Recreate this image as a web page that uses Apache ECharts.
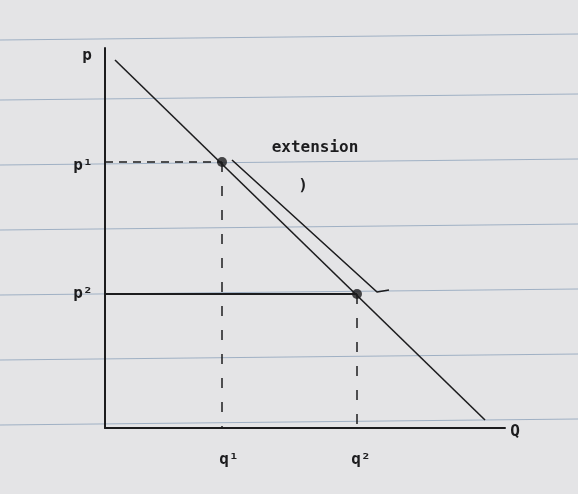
<!DOCTYPE html>
<html><head><meta charset="utf-8">
<script src="https://cdn.jsdelivr.net/npm/echarts@6/dist/echarts.min.js"></script>
<style>html,body{margin:0;padding:0;background:#e4e4e6}#c{width:578px;height:494px}</style>
</head><body><div id="c"></div>
<script>
var demand=[[10,368],[380,8]];
var p1=266, q1=117, p2=134, q2=252;
var extension=[[127,268],[272,136],[284,138]];
var rules=[40,100,165,230,295,360,425];
var chart=echarts.init(document.getElementById('c'));
var ink='#1c1c1e';
var lbl=function(t,x,y){return {value:[x,y],label:{show:true,formatter:t,color:ink,fontSize:16,fontWeight:'bold',fontFamily:'DejaVu Sans Mono'}};};
chart.setOption({
 backgroundColor:'#e4e4e6',
 graphic:rules.map(function(y){return {type:'line',z:-10,shape:{x1:0,y1:y,x2:578,y2:y-6},style:{stroke:'#9fb0c4',lineWidth:1}};}),
 grid:{left:105,right:73,top:48,bottom:66},
 xAxis:{type:'value',min:0,max:400,axisLine:{lineStyle:{color:ink,width:2}},axisTick:{show:false},axisLabel:{show:false},splitLine:{show:false}},
 yAxis:{type:'value',min:0,max:380,axisLine:{show:true,lineStyle:{color:ink,width:2}},axisTick:{show:false},axisLabel:{show:false},splitLine:{show:false}},
 series:[
  {type:'line',data:demand,symbol:'none',lineStyle:{color:ink,width:1.6},clip:false},
  {type:'line',data:[[0,p1],[q1,p1]],symbol:'none',lineStyle:{color:ink,width:1.5,type:[8,6]}},
  {type:'line',data:[[q1,p1],[q1,0]],symbol:'none',lineStyle:{color:ink,width:1.5,type:[10,14]}},
  {type:'line',data:[[0,p2],[q2,p2]],symbol:'none',lineStyle:{color:ink,width:2}},
  {type:'line',data:[[q2,p2],[q2,0]],symbol:'none',lineStyle:{color:ink,width:1.5,type:[10,14]}},
  {type:'line',data:extension,symbol:'none',lineStyle:{color:ink,width:1.6}},
  {type:'scatter',data:[[q1,p1],[q2,p2]],symbolSize:10,itemStyle:{color:ink}},
  {type:'scatter',symbolSize:0,clip:false,silent:true,itemStyle:{opacity:1},data:[
    lbl('p',-18,372),lbl('p¹',-22,262),lbl('p²',-22,134),
    lbl('Q',410,-4),lbl('q¹',124,-32),lbl('q²',256,-32),
    lbl('extension',210,280),lbl(')',198,242)]}
 ]
});
</script></body></html>
